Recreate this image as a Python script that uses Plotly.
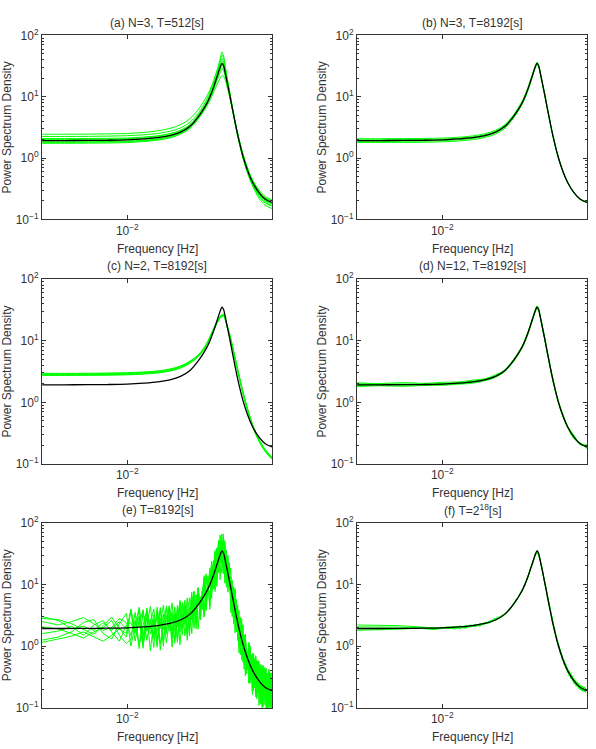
import plotly.graph_objects as go

# ---------------- data ----------------
freq = [0.0039, 0.005, 0.0065, 0.008, 0.010, 0.012, 0.014, 0.016, 0.018, 0.020,
        0.022, 0.024, 0.025, 0.026, 0.027, 0.028, 0.0285, 0.029, 0.0295, 0.030,
        0.031, 0.032, 0.033, 0.034, 0.036, 0.038, 0.040, 0.043, 0.046, 0.0495]

true_psd = [1.93, 1.93, 1.94, 1.95, 1.98, 2.05, 2.15, 2.33, 2.65, 3.3,
            4.8, 7.6, 10.2, 14.5, 21.5, 31, 35, 32, 25, 19,
            11, 6.3, 3.7, 2.3, 1.05, 0.60, 0.40, 0.27, 0.213, 0.19]

est_a = [
    [2.45, 2.45, 2.46, 2.48, 2.52, 2.62, 2.78, 3.05, 3.5, 4.4, 6.3, 10.0, 13.2, 18.5, 27, 40, 48, 42, 31, 22, 12, 6.6, 3.8, 2.3, 1.02, 0.57, 0.37, 0.24, 0.19, 0.17],
    [2.25, 2.25, 2.26, 2.28, 2.32, 2.40, 2.52, 2.74, 3.1, 3.85, 5.5, 8.9, 12.2, 17.5, 27, 43, 54, 46, 33, 23, 12.2, 6.6, 3.7, 2.2, 0.98, 0.54, 0.35, 0.22, 0.17, 0.15],
    [2.08, 2.08, 2.09, 2.10, 2.13, 2.20, 2.31, 2.50, 2.84, 3.5, 5.1, 8.1, 11.0, 15.8, 24, 36, 42, 37, 28, 20.5, 11.5, 6.5, 3.8, 2.35, 1.07, 0.61, 0.40, 0.26, 0.205, 0.18],
    [1.84, 1.84, 1.85, 1.86, 1.89, 1.96, 2.06, 2.24, 2.56, 3.2, 4.6, 7.2, 9.6, 13.2, 18.5, 25, 28, 26.5, 22, 17.5, 10.5, 6.2, 3.7, 2.35, 1.1, 0.63, 0.42, 0.285, 0.225, 0.2],
    [1.74, 1.74, 1.75, 1.76, 1.79, 1.86, 1.96, 2.13, 2.45, 3.05, 4.4, 6.8, 8.9, 12, 16, 20.5, 22, 21.5, 19, 15.5, 10, 6.1, 3.7, 2.4, 1.15, 0.66, 0.44, 0.3, 0.235, 0.21],
    [1.96, 1.96, 1.97, 1.98, 2.01, 2.08, 2.19, 2.37, 2.7, 3.35, 4.85, 7.6, 10.1, 14.2, 20.5, 29, 33, 30.5, 24, 18.5, 10.8, 6.2, 3.65, 2.25, 1.02, 0.58, 0.38, 0.255, 0.2, 0.18],
    [1.80, 1.80, 1.81, 1.82, 1.85, 1.92, 2.02, 2.2, 2.52, 3.15, 4.6, 7.4, 10, 14.4, 21.5, 32, 38, 34, 26, 19.5, 11, 6.2, 3.6, 2.2, 0.98, 0.55, 0.36, 0.235, 0.185, 0.165],
    [2.02, 2.02, 2.03, 2.04, 2.07, 2.15, 2.27, 2.47, 2.82, 3.5, 5.1, 8.0, 10.8, 15, 21, 27.5, 30, 28, 23, 18, 10.8, 6.3, 3.75, 2.35, 1.08, 0.62, 0.41, 0.28, 0.22, 0.2],
]

est_b = [
    [2.07, 2.07, 2.08, 2.09, 2.12, 2.19, 2.3, 2.5, 2.84, 3.53, 5.1, 8.1, 10.8, 15.4, 22.6, 32.3, 36.5, 33, 25.8, 19.5, 11.2, 6.4, 3.75, 2.33, 1.06, 0.61, 0.405, 0.273, 0.215, 0.192],
    [1.8, 1.8, 1.8, 1.81, 1.84, 1.9, 2.0, 2.17, 2.47, 3.08, 4.5, 7.15, 9.6, 13.7, 20.5, 29.8, 34, 31, 24.3, 18.5, 10.8, 6.2, 3.65, 2.28, 1.04, 0.595, 0.397, 0.268, 0.211, 0.188],
    [1.99, 1.99, 2.0, 2.01, 2.04, 2.11, 2.21, 2.4, 2.73, 3.4, 4.95, 7.8, 10.5, 14.9, 22.0, 31.5, 35.7, 32.6, 25.4, 19.3, 11.1, 6.35, 3.72, 2.31, 1.055, 0.602, 0.401, 0.271, 0.214, 0.191],
    [1.87, 1.87, 1.88, 1.89, 1.92, 1.99, 2.09, 2.26, 2.58, 3.22, 4.68, 7.42, 10.0, 14.2, 21.1, 30.5, 34.3, 31.4, 24.6, 18.7, 10.9, 6.25, 3.68, 2.29, 1.045, 0.598, 0.399, 0.269, 0.212, 0.189],
]

est_c = [
    [2.96, 2.96, 2.97, 3.0, 3.04, 3.12, 3.24, 3.48, 3.9, 4.68, 6.0, 8.9, 12, 15.9, 20.8, 25.5, 26.5, 27, 24, 19.2, 13, 8.3, 5.2, 3.33, 1.46, 0.75, 0.437, 0.25, 0.172, 0.13],
    [2.74, 2.74, 2.75, 2.76, 2.8, 2.88, 3.0, 3.22, 3.6, 4.32, 5.57, 8.25, 11, 14.7, 19.2, 23.5, 24.5, 25, 22, 17.8, 12, 7.7, 4.8, 3.07, 1.34, 0.69, 0.403, 0.23, 0.158, 0.12],
    [2.85, 2.85, 2.86, 2.88, 2.92, 3.0, 3.12, 3.35, 3.75, 4.5, 5.8, 8.6, 11.5, 15.3, 20, 24.5, 25.5, 26, 23, 18.5, 12.5, 8.0, 5.0, 3.2, 1.4, 0.72, 0.42, 0.24, 0.165, 0.125],
    [2.9, 2.91, 2.91, 2.93, 2.98, 3.06, 3.18, 3.42, 3.83, 4.6, 5.9, 8.8, 11.7, 15.6, 20.4, 25, 26, 26.5, 23.5, 18.9, 12.8, 8.15, 5.1, 3.26, 1.43, 0.735, 0.43, 0.245, 0.168, 0.127],
    [2.8, 2.79, 2.8, 2.82, 2.86, 2.94, 3.06, 3.28, 3.68, 4.4, 5.7, 8.4, 11.3, 15, 19.6, 24, 25, 25.5, 22.5, 18.1, 12.2, 7.85, 4.9, 3.14, 1.37, 0.705, 0.41, 0.235, 0.162, 0.123],
]

est_d = [
    [2.08, 2.02, 2.1, 2.03, 2.12, 2.15, 2.3, 2.42, 2.8, 3.4, 5.0, 7.8, 10.6, 15, 22.5, 32, 37, 33, 25.5, 19.5, 11.4, 6.5, 3.8, 2.4, 1.08, 0.63, 0.41, 0.29, 0.205, 0.2],
    [1.8, 1.86, 1.82, 1.88, 1.9, 1.98, 2.05, 2.25, 2.55, 3.2, 4.6, 7.3, 9.8, 14, 20.8, 30, 33.5, 31, 24.5, 18.5, 10.7, 6.1, 3.6, 2.22, 1.02, 0.58, 0.39, 0.255, 0.22, 0.178],
    [1.97, 1.95, 1.98, 1.96, 2.02, 2.08, 2.2, 2.36, 2.7, 3.35, 4.9, 7.7, 10.4, 14.8, 21.8, 31.5, 36, 32.5, 25.2, 19.2, 11.1, 6.4, 3.75, 2.32, 1.06, 0.61, 0.405, 0.275, 0.21, 0.196],
    [1.88, 1.92, 1.9, 1.93, 1.95, 2.02, 2.12, 2.3, 2.6, 3.25, 4.75, 7.5, 10.1, 14.3, 21.2, 30.5, 34.5, 31.5, 24.8, 18.8, 10.9, 6.25, 3.68, 2.28, 1.04, 0.595, 0.395, 0.265, 0.218, 0.185],
    [2.0, 2.0, 1.96, 2.0, 1.98, 2.1, 2.18, 2.38, 2.68, 3.3, 4.85, 7.65, 10.3, 14.6, 21.7, 31.2, 35.5, 32.2, 25, 19, 11, 6.3, 3.72, 2.31, 1.05, 0.6, 0.4, 0.27, 0.21, 0.205],
]

# panel (e): coarse low-frequency part + dense high-frequency part
freq_e_lo = [0.00390, 0.00465, 0.00540, 0.00615, 0.00690, 0.00765, 0.00840, 0.00915, 0.00990]
freq_e_hi = [0.0104, 0.0109, 0.0114, 0.0119, 0.0124, 0.0129, 0.0134, 0.0139, 0.0144, 0.0149,
             0.0154, 0.0159, 0.0164, 0.0169, 0.0174, 0.0179, 0.0184, 0.0189, 0.0194, 0.0199,
             0.0204, 0.0209, 0.0214, 0.0219, 0.0224, 0.0229, 0.0234, 0.0239, 0.0244, 0.0249,
             0.0254, 0.0259, 0.0264, 0.0269, 0.0274, 0.0279, 0.0284, 0.0289, 0.0294, 0.0299,
             0.0304, 0.0309, 0.0314, 0.0319, 0.0324, 0.0329, 0.0334, 0.0339, 0.0344, 0.0349,
             0.0354, 0.0359, 0.0364, 0.0369, 0.0374, 0.0379, 0.0384, 0.0389, 0.0394, 0.0399,
             0.0404, 0.0409, 0.0414, 0.0419, 0.0424, 0.0429, 0.0434, 0.0439, 0.0444, 0.0449,
             0.0454, 0.0459, 0.0464, 0.0469, 0.0474, 0.0479, 0.0484, 0.0489, 0.0494]

est_e_lo = [
    [2.8, 2.7, 2.3, 1.85, 1.55, 2.15, 2.95, 1.95, 1.4],
    [1.25, 1.4, 1.7, 2.4, 2.7, 1.6, 1.3, 2.3, 3.4],
    [1.6, 1.75, 2.1, 1.5, 2.2, 2.6, 1.7, 1.2, 2.2],
    [2.05, 1.9, 1.6, 1.35, 1.7, 2.0, 2.6, 1.5, 1.1],
    [2.5, 2.2, 2.5, 2.9, 2.3, 1.8, 2.0, 2.8, 2.4],
    [1.15, 1.3, 1.45, 1.7, 1.4, 1.2, 1.5, 1.9, 1.6],
    [3.0, 2.6, 1.9, 2.1, 1.8, 2.4, 1.8, 2.5, 1.9],
]

est_e_hi = [
    [3.8, 1.21, 2.64, 0.92, 4.14, 1.88, 3.17, 1.07, 2.38, 4.62,
     1.58, 3.71, 0.96, 2.95, 2.04, 5.11, 1.52, 4.09, 3.10, 2.13,
     6.23, 1.95, 4.46, 8.7, 3.98, 7.8, 2.97, 13.4, 7.31, 11.4,
     22.6, 8.4, 22.1, 9.3, 51.6, 27, 51.8, 16.5, 28.9, 36,
     10.5, 18.6, 3.52, 8.04, 4.08, 8.0, 1.71, 3.43, 1.95, 1.04,
     2.33, 0.55, 0.99, 1.52, 0.54, 0.82, 0.25, 0.9, 0.38, 0.47,
     0.72, 0.21, 0.43, 0.14, 0.58, 0.25, 0.39, 0.125, 0.27, 0.49,
     0.157, 0.34, 0.084, 0.25, 0.16, 0.39, 0.108, 0.27, 0.19],
    [1.0, 2.21, 4.26, 1.44, 3.31, 0.84, 2.53, 1.71, 4.21, 1.21,
     3.15, 2.32, 1.55, 4.31, 1.28, 2.75, 5.11, 2.19, 4.03, 1.47,
     6.41, 3.32, 4.89, 8.93, 3.18, 7.8, 2.97, 14.9, 7.74, 14.9,
     5.95, 15.4, 35.7, 14.5, 41.3, 12, 41.4, 26.4, 51.3, 11,
     21, 11.6, 5.72, 11.7, 2.55, 4.31, 5.74, 1.84, 2.54, 0.72,
     2.39, 0.94, 1.08, 1.56, 0.43, 0.82, 0.25, 1.0, 0.405, 0.62,
     0.19, 0.39, 0.70, 0.217, 0.46, 0.109, 0.31, 0.2, 0.47, 0.128,
     0.31, 0.215, 0.137, 0.36, 0.10, 0.21, 0.36, 0.146, 0.25],
    [2.4, 1.61, 3.96, 1.13, 2.9, 2.09, 1.37, 3.75, 1.08, 2.31,
     4.16, 1.74, 3.11, 1.11, 4.59, 2.23, 3.17, 5.55, 1.86, 4.25,
     1.6, 7.8, 3.83, 7.05, 2.65, 6.6, 13.9, 5.2, 13.8, 3.96,
     14.3, 11.2, 33.2, 11.4, 36.1, 30, 22.4, 57.8, 13.2, 21,
     27.8, 8.7, 11.4, 3.0, 9.2, 3.49, 3.57, 4.66, 1.17, 2.08,
     0.6, 2.2, 0.85, 1.23, 0.36, 0.69, 1.16, 0.35, 0.72, 0.164,
     0.46, 0.284, 0.65, 0.17, 0.41, 0.273, 0.17, 0.44, 0.121, 0.244,
     0.41, 0.161, 0.27, 0.093, 0.365, 0.17, 0.227, 0.37, 0.114],
    [1.3, 3.52, 1.02, 2.15, 3.83, 1.57, 2.74, 0.96, 3.89, 1.87,
     2.59, 4.41, 1.43, 3.2, 1.15, 5.24, 2.48, 4.38, 1.55, 3.6,
     7.48, 2.73, 6.8, 1.88, 6.36, 4.8, 12.9, 4.1, 12, 9.9,
     7.7, 24.5, 8.5, 21.7, 47.7, 22.5, 44.9, 14.9, 47.3, 17,
     17.3, 22, 5.3, 8.7, 2.3, 8.2, 2.79, 3.68, 0.98, 1.76,
     2.79, 0.77, 1.5, 0.33, 0.86, 0.5, 1.08, 0.275, 0.63, 0.41,
     0.247, 0.62, 0.167, 0.33, 0.54, 0.205, 0.34, 0.113, 0.44, 0.197,
     0.258, 0.41, 0.126, 0.27, 0.091, 0.4, 0.177, 0.29, 0.095],
    [1.5, 2.61, 0.91, 3.69, 1.76, 2.4, 4.01, 1.28, 2.81, 0.99,
     4.5, 2.09, 3.59, 1.23, 2.81, 5.5, 1.93, 4.67, 1.24, 3.92,
     2.85, 7.6, 2.34, 6.58, 5.3, 3.9, 11.6, 3.73, 9.03, 18.3,
     8.9, 18.2, 7.65, 37.3, 21.9, 34.5, 65.6, 19.8, 34.2, 9,
     30, 10.4, 13.2, 3.35, 5.61, 8.6, 2.17, 3.92, 0.78, 1.92,
     1.06, 2.15, 0.52, 1.15, 0.72, 0.41, 0.97, 0.25, 0.47, 0.76,
     0.285, 0.46, 0.15, 0.56, 0.247, 0.314, 0.5, 0.15, 0.315, 0.104,
     0.45, 0.194, 0.315, 0.103, 0.223, 0.42, 0.138, 0.31, 0.076],
    [4.0, 1.81, 3.05, 1.03, 2.28, 4.39, 1.48, 3.42, 0.86, 2.64,
     1.8, 4.52, 1.31, 3.44, 2.55, 1.7, 4.83, 1.46, 3.26, 6.05,
     2.67, 5.07, 1.91, 8.46, 4.5, 6.9, 12.5, 4.47, 11.2, 4.46,
     23.8, 12.6, 25.5, 10.4, 28.4, 63, 24.2, 52.8, 10.5, 24,
     12, 22.6, 4.84, 9.38, 5.1, 2.67, 5.43, 1.23, 2.05, 2.96,
     1.0, 1.43, 0.42, 1.48, 0.61, 0.72, 1.05, 0.3, 0.585, 0.185,
     0.76, 0.32, 0.5, 0.155, 0.32, 0.57, 0.183, 0.4, 0.097, 0.278,
     0.18, 0.42, 0.116, 0.29, 0.203, 0.13, 0.345, 0.097, 0.2],
    [3.6, 1.71, 2.33, 3.9, 1.24, 2.72, 0.95, 4.28, 1.94, 3.3,
     1.13, 2.55, 5.02, 1.72, 4.08, 1.05, 3.31, 2.34, 6.05, 1.8,
     4.98, 3.9, 2.76, 8.23, 2.65, 6.3, 12.2, 5.59, 11.2, 4.46,
     21.4, 11.9, 19.6, 39.3, 15.5, 39, 15.5, 66, 23.7, 30,
     7.5, 12.8, 18.5, 4.69, 8.16, 1.64, 3.72, 1.96, 3.8, 0.88,
     1.86, 1.1, 0.61, 1.44, 0.36, 0.66, 1.02, 0.375, 0.585, 0.185,
     0.68, 0.3, 0.383, 0.59, 0.174, 0.355, 0.118, 0.5, 0.218, 0.348,
     0.112, 0.237, 0.44, 0.144, 0.325, 0.08, 0.236, 0.155, 0.37],
]

freq_fine = [0.00390, 0.00465, 0.00540, 0.00615, 0.00690, 0.00765, 0.00840, 0.00915, 0.00990, 0.01065,
             0.01140, 0.01215, 0.01290, 0.01365, 0.01440, 0.01515, 0.01590, 0.01665, 0.01740, 0.01815,
             0.01890, 0.01965, 0.02040, 0.02115, 0.02190, 0.02265, 0.02340, 0.02415, 0.02490, 0.02565,
             0.02640, 0.02715, 0.02790, 0.02865, 0.02940, 0.03015, 0.03090, 0.03165, 0.03240, 0.03315,
             0.03390, 0.03465, 0.03540, 0.03615, 0.03690, 0.03765, 0.03840, 0.03915, 0.03990, 0.04065,
             0.04140, 0.04215, 0.04290, 0.04365, 0.04440, 0.04515, 0.04590, 0.04665, 0.04740, 0.04815,
             0.04890]

est_f = [
    [2.2, 2.2, 2.18, 2.15, 2.1, 2.05, 2.0, 1.97, 1.98, 2.05,
     1.95, 2.12, 2.0, 2.2, 2.1, 2.3, 2.25, 2.5, 2.6, 2.75,
     3.0, 3.3, 3.5, 4.2, 4.6, 5.8, 6.5, 8.2, 9.6, 13.3,
     16.5, 23.5, 29, 36, 25.5, 18, 11.3, 7.9, 4.95, 3.55,
     2.6, 1.65, 1.42, 0.93, 0.9, 0.6, 0.6, 0.43, 0.45, 0.33,
     0.37, 0.27, 0.3, 0.23, 0.265, 0.205, 0.235, 0.19, 0.222, 0.18,
     0.21],
    [2.05, 2.06, 2.05, 2.03, 2.0, 1.98, 1.95, 1.96, 1.97, 1.98,
     2.08, 1.9, 2.15, 2.05, 2.2, 2.15, 2.35, 2.4, 2.6, 2.65,
     2.9, 3.15, 3.6, 4.0, 4.8, 5.4, 6.7, 7.8, 10.1, 12.6,
     17.5, 22, 30.5, 33, 26.8, 17.2, 11.9, 7.5, 5.2, 3.4,
     2.5, 1.75, 1.36, 0.99, 0.84, 0.64, 0.57, 0.46, 0.42, 0.355,
     0.345, 0.29, 0.28, 0.25, 0.25, 0.22, 0.225, 0.2, 0.21, 0.19,
     0.2],
    [1.9, 1.9, 1.91, 1.92, 1.93, 1.94, 1.95, 1.96, 1.98, 1.92,
     2.02, 2.1, 1.98, 2.16, 2.08, 2.25, 2.3, 2.38, 2.7, 2.85,
     2.95, 3.25, 3.5, 4.1, 4.6, 5.6, 6.5, 8.0, 9.8, 12.9,
     17, 22.7, 29.5, 34, 26, 17.6, 11.6, 7.7, 5.1, 3.45,
     2.45, 1.78, 1.33, 1.01, 0.82, 0.66, 0.553, 0.475, 0.41, 0.367,
     0.333, 0.3, 0.273, 0.256, 0.242, 0.228, 0.215, 0.208, 0.203, 0.199,
     0.194],
    [1.8, 1.82, 1.85, 1.88, 1.92, 1.95, 1.9, 1.85, 1.93, 2.0,
     1.88, 2.05, 1.95, 2.1, 2.25, 2.1, 2.4, 2.35, 2.5, 2.8,
     3.0, 3.1, 3.65, 3.9, 4.9, 5.3, 6.8, 7.7, 10.3, 12.4,
     17.8, 21.5, 31, 35, 25, 18.4, 11.2, 7.9, 4.9, 3.6,
     2.25, 1.95, 1.22, 1.1, 0.74, 0.72, 0.5, 0.52, 0.37, 0.4,
     0.3, 0.33, 0.245, 0.28, 0.218, 0.25, 0.195, 0.228, 0.183, 0.218,
     0.175],
]

titles = ["(a) N=3, T=512[s]", "(b) N=3, T=8192[s]", "(c) N=2, T=8192[s]",
          "(d) N=12, T=8192[s]", "(e) T=8192[s]", "(f) T=2<sup>18</sup>[s]"]

y_tickvals = [0.1, 1, 10, 100]
y_ticktext = ["10<sup>−1</sup>", "10<sup>0</sup>", "10<sup>1</sup>", "10<sup>2</sup>"]
y_minor = [0.2, 0.3, 0.4, 0.5, 0.6, 0.7, 0.8, 0.9, 2, 3, 4, 5, 6, 7, 8, 9,
           20, 30, 40, 50, 60, 70, 80, 90]
x_tickvals = [0.01]
x_ticktext = ["10<sup>−2</sup>"]

for s in est_a + est_b + est_c + est_d:
    assert len(s) == len(freq)
for s in est_f:
    assert len(s) == len(freq_fine)
for s in est_e_lo:
    assert len(s) == len(freq_e_lo)
for s in est_e_hi:
    assert len(s) == len(freq_e_hi)
assert len(true_psd) == len(freq)

# ---------------- figure ----------------
W, H = 596, 749
GREEN = "rgb(0,255,0)"
FONT = "Liberation Sans, Arial, sans-serif"
TXT = "#333333"
AX = "#333333"

cols = [(42, 272), (357, 587)]
rows = [(27, 215), (276, 465), (525, 714)]

freq_e = freq_e_lo + freq_e_hi
est_e = [lo + hi for lo, hi in zip(est_e_lo, est_e_hi)]

panels = [
    (freq, est_a, "spline"),
    (freq, est_b, "spline"),
    (freq, est_c, "spline"),
    (freq, est_d, "spline"),
    (freq_e, est_e, "linear"),
    (freq_fine, est_f, "linear"),
]

fig = go.Figure()
annotations = []
layout = {}
for i, (fx, ests, shape) in enumerate(panels):
    n = i + 1
    r, c = divmod(i, 2)
    x0, x1 = cols[c]
    y0, y1 = rows[r]
    xa = "x" if n == 1 else f"x{n}"
    ya = "y" if n == 1 else f"y{n}"
    for s in ests:
        fig.add_trace(go.Scatter(x=fx, y=s, mode="lines", xaxis=xa, yaxis=ya,
                                 line=dict(color=GREEN, width=1, shape=shape),
                                 showlegend=False, hoverinfo="skip"))
    fig.add_trace(go.Scatter(x=freq, y=true_psd, mode="lines", xaxis=xa, yaxis=ya,
                             line=dict(color="black", width=1.3, shape="spline"),
                             showlegend=False, hoverinfo="skip"))
    xkey = "xaxis" if n == 1 else f"xaxis{n}"
    ykey = "yaxis" if n == 1 else f"yaxis{n}"
    layout[xkey] = dict(domain=[x0 / W, x1 / W], anchor=ya, type="log",
                        range=[-2.41, -1.305], tickmode="array",
                        tickvals=x_tickvals, ticktext=x_ticktext,
                        ticks="inside", ticklen=4, tickcolor=AX, mirror="allticks",
                        showline=True, linecolor=AX, linewidth=1, showgrid=False,
                        zeroline=False, tickfont=dict(family=FONT, size=12, color=TXT))
    layout[ykey] = dict(domain=[1 - y1 / H, 1 - y0 / H], anchor=xa, type="log",
                        range=[-1, 2], tickmode="array",
                        tickvals=y_tickvals, ticktext=y_ticktext,
                        ticks="inside", ticklen=4, tickcolor=AX, mirror="allticks",
                        showline=True, linecolor=AX, linewidth=1, showgrid=False,
                        zeroline=False, tickfont=dict(family=FONT, size=12, color=TXT),
                        minor=dict(tickmode="array", tickvals=y_minor, ticks="inside",
                                   ticklen=2, tickcolor=AX, showgrid=False))
    cx = (x0 + x1) / 2
    annotations.append(dict(text=titles[i], x=cx / W, y=1 - (y0 - 13) / H, xref="paper",
                            yref="paper", showarrow=False, xanchor="center", yanchor="middle",
                            font=dict(family=FONT, size=12, color=TXT)))
    annotations.append(dict(text="Frequency [Hz]", x=cx / W, y=1 - (y1 + 30) / H, xref="paper",
                            yref="paper", showarrow=False, xanchor="center", yanchor="middle",
                            font=dict(family=FONT, size=12, color=TXT)))
    annotations.append(dict(text="Power Spectrum Density", x=(x0 - 35) / W, y=1 - ((y0 + y1) / 2) / H,
                            xref="paper", yref="paper", showarrow=False, textangle=-90,
                            xanchor="center", yanchor="middle",
                            font=dict(family=FONT, size=12, color=TXT)))

fig.update_layout(width=W, height=H, margin=dict(l=0, r=0, t=0, b=0),
                  paper_bgcolor="white", plot_bgcolor="white",
                  annotations=annotations, **layout)
fig.write_html("out.html")
